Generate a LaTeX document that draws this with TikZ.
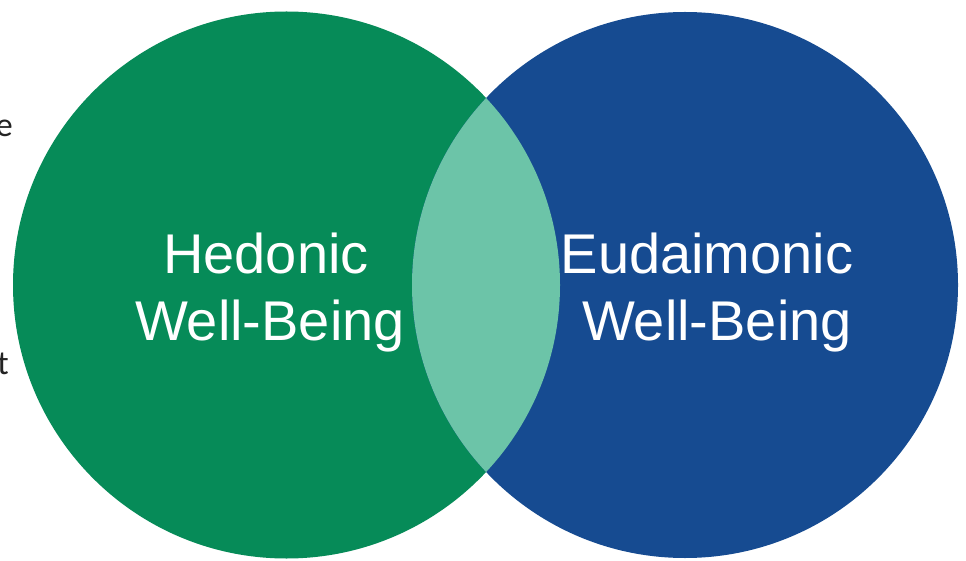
\documentclass[tikz,border=0pt]{standalone}
\usepackage{fontspec}
\setmainfont{Liberation Sans}
\newfontfamily\sidefont{Carlito}
\definecolor{hgreen}{RGB}{6,139,88}
\definecolor{eblue}{RGB}{22,75,145}
\definecolor{lens}{RGB}{108,196,168}
\definecolor{sidegray}{RGB}{35,35,35}
\tikzset{
  label text/.style={text=white, inner sep=0pt, anchor=base, font=\fontsize{56}{60}\selectfont},
  side text/.style={text=sidegray, inner sep=0pt, anchor=base east, font=\sidefont\fontsize{34}{38}\selectfont}
}
\begin{document}
\begin{tikzpicture}[x=1pt,y=-1pt]
\useasboundingbox (0,0) rectangle (966,561);
\fill[white] (0,0) rectangle (966,561);
\coordinate (cl) at (286.5,285);
\coordinate (cr) at (685,285);
\fill[hgreen] (cl) circle[radius=273.5];
\fill[eblue] (cr) circle[radius=273];
\begin{scope}
  \clip (cl) circle[radius=273.5];
  \fill[lens] (cr) circle[radius=273];
\end{scope}
\node[label text] (h1) at (266,273) {Hedonic};
\node[label text] (h2) at (270,340) {Well-Being};
\node[label text] (e1) at (707,273) {Eudaimonic};
\node[label text] (e2) at (717,340) {Well-Being};
\node[side text] (se) at (13,137) {e};
\node[side text] (st) at (9,374) {t};
\end{tikzpicture}
\end{document}
